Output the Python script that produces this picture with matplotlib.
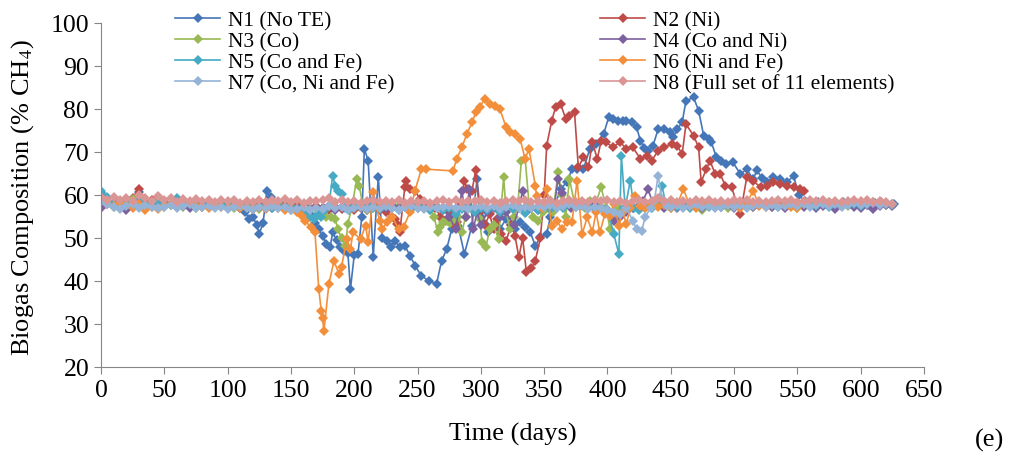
import numpy as np
import matplotlib.pyplot as plt

plt.rcParams['font.family'] = ['Liberation Serif', 'DejaVu Serif']
plt.rcParams['mathtext.fontset'] = 'stix'

# N1 (No TE)
n1_days = list(range(0, 111, 5)) + [
    114, 117, 120, 123, 125, 128, 131, 134, 137, 141,
    145, 150, 155, 160, 165, 169, 172, 175, 178, 181,
    183, 186, 189, 192, 195, 197, 200, 203, 206, 208,
    211, 215, 219, 222, 226, 229, 232, 236, 240, 244,
    248, 253, 259, 265, 269, 273, 277, 282, 287, 293,
    297, 300, 303, 306, 310, 315, 320, 324, 327, 331,
    335, 339, 343, 347, 352, 355, 359, 363, 368, 372,
    376, 381, 386, 391, 397, 401, 404, 408, 412, 415,
    419, 423, 426, 429, 432, 436, 440, 445, 449, 452,
    455, 459, 462, 468, 472, 476, 480, 482, 486, 490,
    494, 499, 505, 510, 515, 518, 522, 526, 531, 536,
    542, 547] + list(range(551, 627, 5))
n1_vals = [60.5, 58.5, 57.8, 58.2, 57.5, 58.6, 60.8, 58.0, 57.4, 57.9,
           58.3, 57.6, 58.1, 58.8, 57.7, 58.2, 57.9, 58.4, 57.6, 58.0,
           57.5, 58.1, 57.0,
           56.0, 54.5, 55.0, 53.0, 51.0, 53.5, 61.0, 59.5, 58.0, 57.5,
           57.8, 57.2, 57.6, 56.8, 55.5, 53.5, 52.0, 50.5, 48.5, 47.9,
           51.4, 49.5, 48.0, 47.0, 46.5, 38.1, 46.0, 46.3, 55.0, 70.7,
           68.0, 45.6, 64.3, 50.0, 49.4, 48.0, 49.4, 47.9, 48.2, 45.9,
           43.6, 41.2, 40.0, 39.3, 44.7, 47.4, 52.1, 52.9, 46.3, 52.9,
           63.7, 55.0, 53.3, 51.4, 53.0, 52.1, 54.4, 53.0, 52.1, 53.7,
           52.5, 51.4, 48.2, 50.2, 50.9, 55.0, 58.0, 61.4, 63.0, 66.0,
           66.0, 66.0, 70.7, 71.9, 74.2, 78.1, 77.7, 77.3, 77.3, 77.3,
           76.9, 75.8, 72.6, 71.0, 70.3, 71.5, 75.3, 75.3, 74.6, 73.4,
           75.3, 76.9, 81.9, 82.7, 79.6, 73.8, 73.0, 72.3, 68.8, 68.0,
           67.2, 67.6, 64.9, 66.0, 63.7, 65.7, 64.0, 63.0, 64.1, 63.7,
           63.0, 64.5,
           60.0, 58.5, 58.0, 58.3, 57.8, 58.2, 58.0, 58.4, 57.9, 58.2,
           58.0, 57.7, 58.1, 58.3, 57.8, 58.0]

# N2 (Ni)
n2_days = list(range(0, 231, 5)) + [
    232, 234, 236, 240, 241, 244, 248, 252, 256, 260,
    264, 268, 272, 276, 279, 281, 284, 287, 289, 293,
    296, 299, 303, 307, 310, 313, 316, 320, 324, 327,
    330, 333, 336, 340, 343, 347, 350, 352, 356, 359,
    363, 367, 370, 374, 377, 381, 385, 388, 392, 395,
    399, 404, 410, 415, 420, 426, 431, 435, 440, 445,
    451, 455, 459, 462, 468, 472, 474, 478, 481, 485,
    489, 493, 498, 505, 510, 515, 521, 526, 531, 536,
    542, 547, 552, 555]
n2_vals = [59.0, 58.4, 57.9, 58.6, 58.1, 59.4, 61.5, 59.0, 58.8, 59.5,
           58.3, 57.9, 58.2, 57.8, 58.4, 58.0, 57.6, 58.2, 57.9, 58.4,
           57.7, 58.1, 57.6, 58.0, 57.4, 57.9, 58.3, 57.5, 58.0, 57.8,
           57.2, 57.6, 57.0, 56.8, 57.5, 57.0, 56.5, 57.2, 56.8, 57.3,
           56.6, 57.0, 56.4, 57.1, 56.5, 56.0, 55.0,
           54.4, 53.3, 51.4, 61.9, 63.3, 61.4, 61.0, 59.0, 58.0, 57.5,
           57.0, 55.0, 54.0, 56.0, 53.0, 53.7, 58.0, 63.3, 61.4, 61.0,
           65.9, 56.0, 53.0, 55.5, 52.0, 54.4, 51.0, 49.4, 53.0, 50.5,
           45.5, 50.0, 42.0, 43.0, 44.7, 50.0, 60.0, 71.5, 77.3, 80.4,
           81.2, 77.7, 78.4, 79.2, 66.4, 68.8, 66.4, 72.3, 68.4, 72.6,
           72.3, 71.1, 72.3, 70.7, 71.1, 68.4, 69.1, 68.0, 70.3, 71.1,
           71.9, 71.5, 69.5, 76.5, 73.8, 71.1, 63.0, 66.0, 68.0, 64.9,
           64.9, 62.2, 61.8, 55.6, 64.1, 63.3, 61.8, 62.2, 63.0, 62.6,
           62.2, 61.8, 61.4, 61.0]

# N3 (Co)
n3_days = list(range(0, 171, 5)) + [
    175, 178, 182, 185, 187, 190, 193, 195, 198, 202,
    204, 207, 210, 215, 220, 225, 230, 235, 240, 245,
    250, 255, 260, 263, 266, 268, 270, 273, 276, 279,
    282, 285, 288, 292, 296, 299, 301, 304, 307, 310,
    314, 318, 320, 323, 326, 329, 332, 335, 338, 341,
    345, 349, 353, 357, 361, 364, 367, 370, 374, 378,
    382, 386, 390, 395, 399, 402, 406, 410, 415, 420] + list(range(425, 626, 5))
n3_vals = [57.8, 58.5, 57.2, 58.0, 57.5, 59.0, 58.2, 57.4, 57.9, 58.3,
           57.1, 57.6, 58.0, 57.3, 57.8, 57.0, 58.1, 57.5, 57.2, 57.9,
           57.4, 57.0, 57.6, 58.0, 57.2, 56.8, 57.5, 57.3, 58.2, 57.0,
           57.4, 56.9, 57.6, 57.0, 56.8,
           56.3, 55.0, 54.8, 54.4, 52.1, 50.0, 48.2, 53.3, 57.0, 63.7,
           62.0, 57.5, 56.5, 57.0, 57.5, 57.8, 58.0, 57.5, 58.0, 57.2,
           57.6, 57.0, 56.5, 55.0, 51.3, 52.5, 53.7, 54.0, 53.5, 54.5,
           55.0, 51.3, 55.0, 57.0, 56.0, 54.4, 49.0, 47.9, 52.0, 53.0,
           49.8, 64.1, 56.0, 52.1, 55.0, 57.0, 68.0, 68.4, 58.0, 55.0,
           54.0, 56.0, 57.0, 56.0, 65.3, 60.0, 55.0, 63.7, 58.0, 57.5,
           57.0, 58.5, 57.5, 61.8, 57.0, 52.1, 56.0, 57.0, 57.5, 57.0,
           57.5, 57.0, 58.0, 57.4, 57.8, 56.9, 57.5, 58.0, 57.2, 57.6,
           56.5, 57.8, 57.3, 58.1, 57.0, 57.6, 57.4, 58.0, 57.2, 57.7,
           57.9, 57.3, 57.8, 58.2, 57.5, 57.0, 57.6, 58.0, 57.4, 57.8,
           58.3, 57.7, 58.0, 57.5, 58.2, 57.9, 58.4, 57.8, 58.1, 57.6,
           58.0]

# N4 (Co and Ni)
n4_days = list(range(0, 276, 5)) + [
    280, 285, 288, 291, 294, 297, 300, 305, 310, 315,
    320, 326, 330, 333, 336, 340, 345, 350, 355, 358,
    361, 364, 367, 371, 375, 380, 385, 390, 395, 400,
    405, 410, 415, 420, 425, 428, 432, 436, 440, 445] + list(range(450, 626, 5))
n4_vals = [57.0, 58.0, 57.5, 57.0, 56.5, 57.8, 58.5, 57.2, 57.6, 57.0,
           57.4, 57.8, 57.2, 57.5, 57.0, 57.6, 57.3, 57.8, 57.1, 57.5,
           57.2, 57.6, 57.0, 57.4, 56.8, 57.2, 57.5, 57.0, 57.4, 56.9,
           57.3, 57.0, 57.5, 56.8, 57.2, 57.0, 57.4, 56.6, 57.1, 57.5,
           57.0, 57.3, 56.8, 57.2, 57.5, 57.0, 57.4, 56.9, 57.2, 57.6,
           57.0, 57.3, 56.8, 57.1, 56.5, 55.0,
           52.0, 61.0, 55.0, 61.4, 52.0, 56.0, 53.0, 56.0, 57.0, 55.0,
           56.0, 53.0, 57.0, 61.0, 56.0, 57.0, 56.5, 57.5, 57.0, 57.5,
           63.7, 60.5, 58.0, 57.0, 57.5, 58.0, 57.2, 57.6, 57.0, 56.5,
           54.0, 55.0, 56.0, 57.0, 57.5, 58.5, 61.4, 58.0, 57.5, 57.0,
           57.5, 57.0, 57.8, 57.2, 57.6, 57.0, 57.4, 57.9, 57.2, 57.6,
           57.0, 57.5, 57.8, 57.2, 57.6, 57.9, 57.3, 57.7, 57.0, 57.5,
           57.8, 57.2, 57.6, 57.0, 57.4, 57.8, 56.8, 57.5, 57.9, 57.3,
           57.0, 57.6, 56.8, 57.4, 57.7, 57.5]

# N5 (Co and Fe)
n5_days = list(range(0, 156, 5)) + [
    160, 165, 168, 171, 174, 177, 180, 183, 185, 187,
    190, 193, 196, 200] + list(range(205, 401, 5)) + [
    405, 409, 411, 414, 418, 421, 425, 430, 435, 440, 443, 446] + list(range(450, 626, 5))
n5_vals = [61.0, 59.5, 58.0, 57.6, 58.2, 57.5, 58.8, 57.4, 57.9, 58.2,
           57.6, 58.0, 59.2, 58.5, 57.8, 57.2, 57.7, 58.1, 57.4, 57.9,
           57.2, 57.6, 57.0, 57.5, 56.8, 57.3, 57.6, 57.0, 57.4, 56.9,
           57.2, 56.5,
           56.0, 55.0, 54.4, 55.5, 55.0, 56.5, 57.5, 64.5, 62.0, 61.0,
           60.2, 57.0, 56.5, 57.5,
           57.2, 57.6, 57.0, 56.8, 57.4, 57.0, 56.5, 57.2, 56.8, 57.5,
           57.0, 56.6, 57.2, 56.5, 57.0, 55.5, 56.8, 57.3, 56.0, 57.0,
           56.5, 57.2, 56.0, 57.5, 56.8, 57.3, 55.8, 57.0, 56.5, 57.4,
           56.8, 57.5, 57.0, 57.8, 57.2, 58.0, 57.5, 56.8, 57.2, 56.5,
           50.9, 46.3, 69.1, 57.0, 63.3, 57.0, 56.5, 57.5, 57.0, 58.0, 62.2, 58.0,
           57.6, 57.2, 57.8, 57.0, 57.5, 57.9, 57.3, 57.7, 57.1, 57.6,
           57.4, 57.9, 57.2, 57.6, 58.0, 57.5, 57.8, 57.2, 57.6, 57.9,
           57.4, 57.8, 58.1, 57.5, 57.9, 57.3, 57.8, 58.2, 57.6, 58.0,
           57.5, 57.9, 58.3, 57.8, 58.1, 57.7]

# N6 (Ni and Fe)
n6_days = list(range(0, 156, 5)) + [
    159, 161, 166, 169, 172, 174, 175, 176, 180, 184,
    188, 190, 194, 197, 199, 205, 209, 211, 215, 220,
    222, 226, 230, 235, 239, 244, 248, 253, 257,
    278, 281, 285, 289, 293, 296, 299, 303, 307,
    311, 315, 320, 323, 327, 331, 335, 338, 343, 344,
    348, 352, 356, 360, 364, 368, 372, 376, 380, 384,
    388, 391, 394, 398, 402, 405, 409, 412, 415, 418,
    422, 426, 430, 435, 440, 445, 450, 455, 460, 465,
    470, 475, 480, 485, 490, 495, 500, 505, 510, 515,
    520, 525, 530, 535, 540, 545, 550, 555]
n6_vals = [59.0, 58.0, 57.5, 58.2, 57.6, 57.0, 58.0, 56.5, 57.2, 56.8,
           57.5, 58.0, 57.3, 57.8, 58.2, 57.5, 57.2, 57.0, 57.6, 57.2,
           56.9, 57.4, 57.0, 57.3, 56.8, 57.2, 56.8, 58.0, 57.0, 56.5,
           56.5, 56.0,
           55.2, 54.0, 52.5, 51.3, 38.1, 33.0, 31.5, 28.3, 39.3, 44.7,
           41.6, 43.2, 49.8, 47.4, 51.3, 49.8, 52.9, 49.0, 60.6, 54.0,
           52.1, 53.7, 55.0, 52.1, 52.5, 56.0, 61.0, 66.0, 66.0,
           65.6, 68.4, 71.1, 74.2, 76.9, 79.2, 80.4, 82.3, 81.2,
           80.8, 80.0, 75.7, 74.6, 74.2, 73.0, 68.4, 70.7, 62.2, 59.8,
           57.0, 61.4, 52.9, 54.0, 52.1, 53.7, 53.7, 63.3, 50.9, 54.8,
           51.3, 56.0, 51.3, 55.6, 55.2, 58.0, 52.9, 56.0, 53.3, 57.0,
           59.8, 57.5, 57.0, 57.8, 57.2, 57.6, 57.0, 57.8, 61.4, 57.5,
           57.0, 57.8, 58.0, 57.4, 57.8, 58.2, 57.5, 57.0, 58.0, 61.0,
           57.5, 57.2, 57.8, 57.4, 58.0, 57.2, 57.0, 57.8]

# N7 (Co, Ni and Fe)
n7_days = list(range(0, 416, 5)) + [
    420, 423, 427, 430, 434, 437, 440, 443, 447] + list(range(450, 626, 5))
n7_vals = [58.5, 57.8, 57.2, 56.8, 57.5, 58.0, 57.0, 57.6, 57.2, 56.9,
           57.3, 57.6, 57.0, 57.4, 57.8, 56.9, 57.2, 57.5, 57.0, 57.3,
           56.8, 57.2, 57.5, 57.0, 56.7, 57.3, 57.0, 57.4, 56.9, 57.2,
           56.5, 56.8, 57.2, 56.5, 57.0, 56.8, 57.4, 56.9, 57.2, 56.5,
           57.0, 57.3, 56.8, 57.2, 56.9, 57.4, 57.0, 56.6, 57.2, 57.5,
           57.0, 56.8, 57.3, 56.9, 57.2, 57.5, 57.0, 57.3, 56.8, 57.2,
           57.5, 57.0, 57.4, 56.8, 57.2, 57.6, 57.0, 57.3, 56.9, 57.5,
           57.2, 57.6, 57.0, 57.4, 57.8, 57.2, 57.5, 56.8, 57.3, 57.0,
           56.5, 56.0, 55.5, 57.0,
           54.0, 52.1, 51.7, 55.0, 57.0, 58.5, 64.5, 59.0, 57.5,
           57.2, 57.6, 57.0, 57.4, 57.8, 57.1, 57.5, 57.0, 57.3, 57.7,
           57.2, 57.6, 57.0, 57.4, 57.8, 57.3, 57.6, 57.1, 57.5, 57.9,
           57.4, 57.8, 57.2, 57.6, 58.0, 57.5, 57.8, 57.3, 57.7, 58.1,
           57.6, 57.9, 58.2, 57.7, 58.0, 57.8]

# N8 (Full set of 11 elements)
n8_days = list(range(0, 626, 5))
n8_vals = [59.5, 58.8, 59.6, 58.9, 59.2, 58.5, 60.0, 59.4, 58.7, 59.8,
           58.8, 59.2, 58.4, 59.0, 58.6, 59.1, 58.5, 58.9, 58.3, 58.8,
           58.5, 58.9, 58.2, 58.7, 58.4, 58.9, 58.3, 58.8, 58.5, 59.0,
           58.4, 58.8, 58.2, 58.7, 58.5, 58.9, 59.2, 58.4, 58.8, 58.3,
           58.7, 58.2, 58.6, 58.9, 58.3, 58.7, 58.4, 58.8, 58.2, 58.6,
           58.3, 58.7, 58.2, 58.6, 58.9, 58.4, 58.8, 58.3, 58.7, 58.5,
           58.9, 58.4, 58.7, 58.2, 58.6, 58.9, 58.5, 58.8, 58.3, 58.7,
           58.4, 58.8, 58.2, 58.6, 58.9, 58.4, 58.7, 58.3, 58.8, 58.5,
           58.9, 58.4, 58.7, 58.2, 58.6, 58.9, 58.4, 58.7, 59.2, 58.5,
           58.8, 58.3, 58.7, 58.4, 58.9, 58.5, 58.8, 58.3, 58.7, 58.4,
           58.9, 58.5, 58.8, 58.4, 58.7, 58.3, 58.6, 58.9, 58.5, 58.8,
           58.4, 58.7, 58.9, 58.5, 58.8, 58.4, 58.7, 58.3, 58.6, 58.9,
           58.5, 58.8, 58.4, 58.7, 58.3, 58.0]

labels = ['N1 (No TE)', 'N2 (Ni)', 'N3 (Co)', 'N4 (Co and Ni)',
          'N5 (Co and Fe)', 'N6 (Ni and Fe)', 'N7 (Co, Ni and Fe)',
          'N8 (Full set of 11 elements)']
colors = ['#4576b8', '#be4b48', '#98b954', '#7d60a0',
          '#46aac5', '#f38f3a', '#95b3d7', '#d99694']
series = [(n1_days, n1_vals), (n2_days, n2_vals), (n3_days, n3_vals),
          (n4_days, n4_vals), (n5_days, n5_vals), (n6_days, n6_vals),
          (n7_days, n7_vals), (n8_days, n8_vals)]

fig = plt.figure(figsize=(10.15, 4.6), dpi=100)
ax = fig.add_axes([101 / 1015, 0.2, 823 / 1015, 344 / 460])

lines = []
for (d, v), lab, c in zip(series, labels, colors):
    ln, = ax.plot(d, v, color=c, lw=1.2, marker='D', markersize=4.6,
                  markeredgewidth=0, label=lab)
    lines.append(ln)

ax.set_xlim(0, 650)
ax.set_ylim(20, 100)
ax.set_xticks(np.arange(0, 651, 50))
ax.set_yticks(np.arange(20, 101, 10))
for s in ['top', 'right']:
    ax.spines[s].set_visible(False)
for s in ['left', 'bottom']:
    ax.spines[s].set_color('#868686')
ax.tick_params(direction='out', length=5, color='#868686', labelsize=18.5)

ax.set_xlabel('Time (days)', fontsize=19)
ax.set_ylabel('Biogas Composition (% CH$_4$)', fontsize=19)
ax.xaxis.set_label_coords(0.5, -0.16)
ax.yaxis.set_label_coords(-0.079, 0.497)

leg_kw = dict(loc='upper left', frameon=False, fontsize=15.5, handlelength=2.1,
              handletextpad=0.35, labelspacing=0.05, borderpad=0, borderaxespad=0,
              bbox_transform=fig.transFigure)
leg1 = ax.legend([lines[i] for i in (0, 2, 4, 6)], [labels[i] for i in (0, 2, 4, 6)],
                 bbox_to_anchor=(175 / 1015, 1 - 11 / 460), **leg_kw)
ax.add_artist(leg1)
ax.legend([lines[i] for i in (1, 3, 5, 7)], [labels[i] for i in (1, 3, 5, 7)],
          bbox_to_anchor=(600 / 1015, 1 - 11 / 460), **leg_kw)

fig.text(990 / 1015, 1 - 440 / 460, '(e)', ha='center', va='center', fontsize=19)

fig.savefig('out.png', dpi=100)
